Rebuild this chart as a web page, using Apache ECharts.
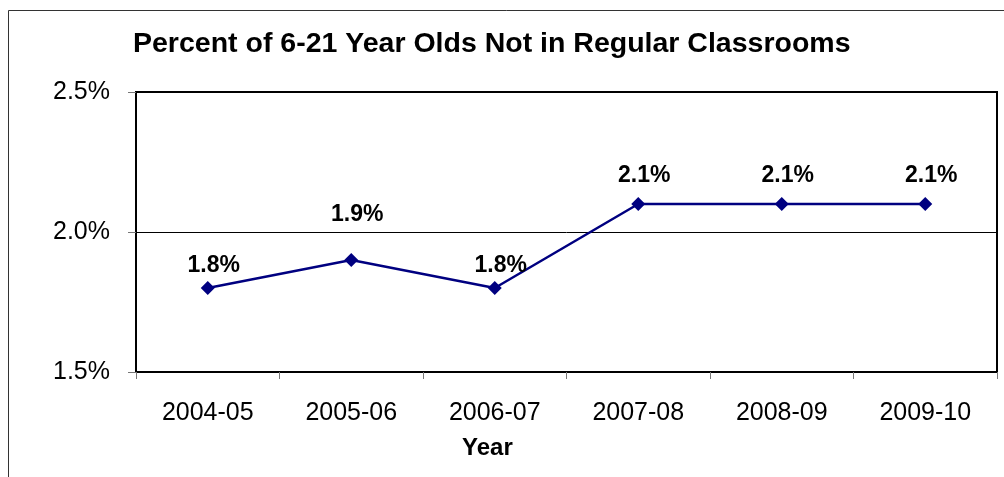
<!DOCTYPE html>
<html><head><meta charset="utf-8">
<script src="https://cdn.jsdelivr.net/npm/echarts@6/dist/echarts.min.js"></script>
<style>html,body{margin:0;padding:0;background:#fff}#c{width:1004px;height:477px}</style>
</head><body><div id="c"></div>
<script>
const categories = ['2004-05','2005-06','2006-07','2007-08','2008-09','2009-10'];
const values = [1.8, 1.9, 1.8, 2.1, 2.1, 2.1];
const yTicks = [1.5, 2.0, 2.5];
const titleText = 'Percent of 6-21 Year Olds Not in Regular Classrooms';
const xName = 'Year';

// label nudges (pixels), matching hand-placed labels in the original
const labelDy = [2, -21, 2, -4, -4, -4];

const chart = echarts.init(document.getElementById('c'), null, {renderer:'canvas'});
chart.setOption({
  animation:false,
  backgroundColor:'#fff',
  textStyle:{fontFamily:'Arial, "Liberation Sans", sans-serif'},
  graphic:[{type:'rect', shape:{x:8.5,y:10.5,width:1100,height:600}, style:{fill:null, stroke:'#333', lineWidth:1}, silent:true}],
  title:[
    {text:titleText, left:133, top:30, padding:0, textStyle:{fontSize:28.5, fontWeight:'bold', color:'#000', fontFamily:'Arial, "Liberation Sans", sans-serif'}},
    {text:xName, top:436, left:462, padding:0, textStyle:{fontSize:24, fontWeight:'bold', color:'#000', fontFamily:'Arial, "Liberation Sans", sans-serif'}}
  ],
  grid:{left:136, top:92, right:7, bottom:105, show:true, borderColor:'#000', borderWidth:2, containLabel:false},
  xAxis:{type:'category', data:categories, boundaryGap:true,
    axisLine:{show:true, lineStyle:{color:'#000', width:2}},
    axisTick:{show:true, length:7, lineStyle:{color:'#777'}, alignWithLabel:false},
    axisLabel:{fontSize:25, color:'#000', margin:29},
    splitLine:{show:false}},
  yAxis:{type:'value', min:1.5, max:2.5, interval:0.5,
    axisLine:{show:true, lineStyle:{color:'#000', width:2}},
    axisTick:{show:true, length:8, lineStyle:{color:'#777'}},
    axisLabel:{fontSize:25, color:'#000', margin:26, formatter:v=>v.toFixed(1)+'%'},
    splitLine:{show:true, lineStyle:{color:'#000', width:1}}},
  series:[{type:'line',
    data: values.map((v,i)=>({value:v, label:{offset:[6, labelDy[i]]}})),
    symbol:'diamond', symbolSize:14,
    lineStyle:{color:'#000080', width:2.5}, itemStyle:{color:'#000080'},
    label:{show:true, position:'top', distance:6, fontSize:23, fontWeight:'bold', color:'#000', formatter:p=>p.value.toFixed(1)+'%'}}]
});
</script></body></html>
